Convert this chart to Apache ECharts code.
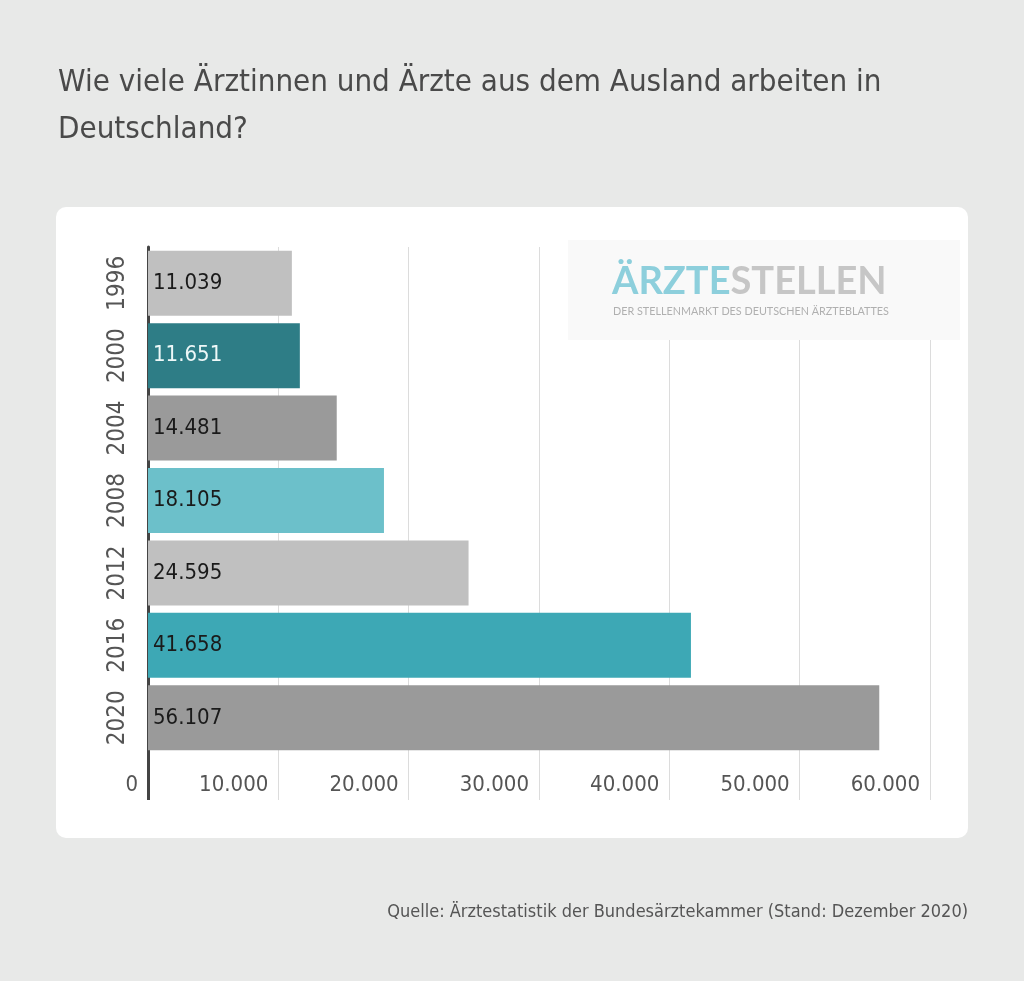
<!DOCTYPE html>
<html>
<head>
<meta charset="utf-8">
<script src="https://cdn.jsdelivr.net/npm/echarts@6/dist/echarts.min.js"></script>
<style>
html,body{margin:0;padding:0;background:#e8e9e8;}
#chart{width:1024px;height:981px;}
</style>
</head>
<body>
<div id="chart"></div>
<script>
const years = ['1996','2000','2004','2008','2012','2016','2020'];
const values = [11039, 11651, 14481, 18105, 24595, 41658, 56107];
const barColors = ['#c0c0c0','#2e7d86','#9a9a9a','#6cc0ca','#c0c0c0','#3da8b5','#9a9a9a'];
const labelColors = ['#1a1a1a','#eef8f8','#1a1a1a','#1a1a1a','#1a1a1a','#1a1a1a','#1a1a1a'];
const xTicks = [10000, 20000, 30000, 40000, 50000, 60000];
const titleText = 'Wie viele Ärztinnen und Ärzte aus dem Ausland arbeiten in\nDeutschland?';
const sourceText = 'Quelle: Ärztestatistik der Bundesärztekammer (Stand: Dezember 2020)';

const FONT = '"Liberation Sans Narrow", "DejaVu Sans Condensed", sans-serif';
function fmt(v){ return String(v).replace(/\B(?=(\d{3})+(?!\d))/g, '.'); }

const chart = echarts.init(document.getElementById('chart'));
chart.setOption({
  backgroundColor: '#e8e9e8',
  animation: false,
  title: {
    text: titleText,
    left: 53, top: 54,
    textStyle: { fontFamily: FONT, fontSize: 31, fontWeight: 'normal', color: '#4a4a4a', lineHeight: 47 }
  },
  graphic: [
    { type: 'rect', z: -10, shape: { x: 56, y: 207, width: 912, height: 631, r: 10 }, style: { fill: '#ffffff' } },
    { type: 'rect', z: 100, shape: { x: 568, y: 240, width: 392, height: 100 }, style: { fill: '#f9f9f9' } },
    { type: 'text', z: 101, left: 612, top: 263, style: {
        text: '{a|ÄRZTE}{b|STELLEN}',
        rich: {
          a: { fontFamily: 'Lato, sans-serif', fontSize: 38, fontWeight: 'bold', fill: '#8dcfdc', color: '#8dcfdc' },
          b: { fontFamily: 'Lato, sans-serif', fontSize: 38, fontWeight: 'bold', fill: '#c6c6c6', color: '#c6c6c6' }
        }
    } },
    { type: 'text', z: 101, left: 613, top: 306, style: {
        text: 'DER STELLENMARKT DES DEUTSCHEN ÄRZTEBLATTES',
        font: '10.8px Lato, sans-serif', fill: '#b0b0b0'
    } },
    { type: 'text', right: 56, top: 903, style: {
        text: sourceText, font: '18px ' + FONT, fill: '#555555', textAlign: 'right'
    } }
  ],
  grid: { left: 148, right: 94, top: 247, bottom: 227, containLabel: false },
  xAxis: [{
    type: 'value', min: 0, max: 60000, interval: 10000,
    axisLine: { show: false },
    axisTick: { show: true, customValues: xTicks, length: 46, lineStyle: { color: '#dcdcdc', width: 1 } },
    splitLine: { show: true, lineStyle: { color: '#dcdcdc', width: 1 } },
    axisLabel: {
      margin: 20, align: 'right', padding: [0, 10, 0, 0],
      fontFamily: FONT, fontSize: 22, color: '#555555',
      formatter: v => fmt(v)
    }
  }, {
    type: 'value', min: 0, max: 60000, interval: 10000, position: 'bottom',
    axisLine: { show: false },
    axisTick: { show: true, customValues: [0], length: 46, lineStyle: { color: '#444444', width: 3 } },
    splitLine: { show: false },
    axisLabel: { show: false }
  }],
  yAxis: {
    type: 'category', data: years, inverse: true,
    axisLine: { show: true, lineStyle: { color: '#444444', width: 3 } },
    axisTick: { show: false },
    axisLabel: { rotate: 90, margin: 18, fontFamily: FONT, fontSize: 24, color: '#555555' }
  },
  series: [{
    type: 'bar', xAxisIndex: 0,
    barWidth: 65,
    data: values.map((v, i) => ({
      value: v,
      itemStyle: { color: barColors[i] },
      label: { color: labelColors[i] }
    })),
    label: {
      show: true, position: 'insideLeft', distance: 5,
      fontFamily: FONT, fontSize: 22,
      formatter: p => fmt(p.value)
    }
  }]
});
</script>
</body>
</html>
